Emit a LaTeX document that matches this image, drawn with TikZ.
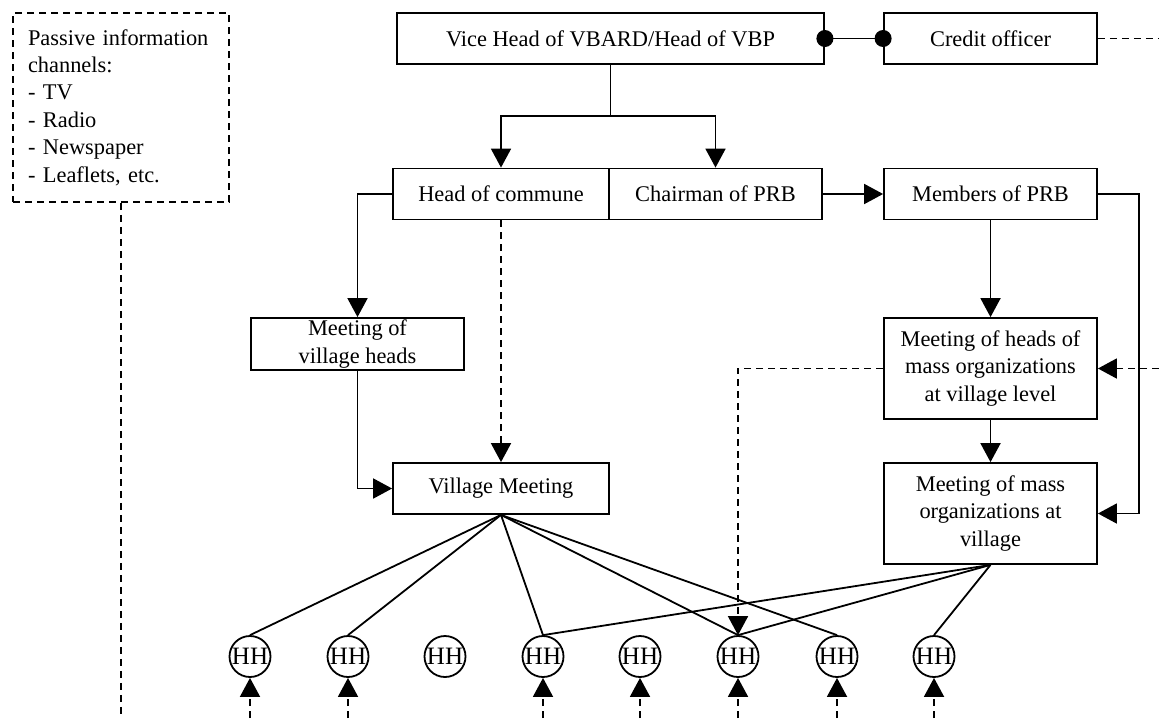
\documentclass[tikz,border=0pt]{standalone}
\usepackage{fontspec}
\setmainfont{Liberation Serif}
\usetikzlibrary{arrows.meta}

\begin{document}
\begin{tikzpicture}[x=0.5pt, y=-0.5pt, line width=0.9pt,
  font=\fontsize{11.2}{13.7}\selectfont,
  box/.style={draw, minimum width=106.5pt, minimum height=25.5pt, inner xsep=2pt, inner ysep=0.5pt, align=center},
  tallbox/.style={box, minimum height=50.5pt},
  hh/.style={draw, circle, minimum size=20.5pt, inner sep=0pt, font=\fontsize{12.5}{14}\selectfont},
  arr/.style={-{Triangle[length=9.5pt, width=10pt]}},
  dsh/.style={dash pattern=on 3.5pt off 2.5pt},
  dasharr/.style={arr, dsh},
  dotline/.style={{Circle[length=8.5pt]}-{Circle[length=8.5pt]}, shorten <=-4.25pt, shorten >=-4.25pt}]

\useasboundingbox (0,0) rectangle (1159,718);

% passive channels
\node[draw, dsh, minimum height=94.5pt, text width=93pt, inner xsep=7.5pt, align=left] (pic) at (121,107.5)
  {Passive information channels:\\- TV\\- Radio\\- Newspaper\\- Leaflets, etc.};

% boxes
\node[box, minimum width=213.5pt] (vh) at (610.5,38.5) {Vice Head of VBARD/Head of VBP};
\node[box] (co) at (990.5,38.5) {Credit officer};
\node[box, minimum width=108pt] (hc) at (501,194) {Head of commune};
\node[box] (ch) at (715.5,194) {Chairman of PRB};
\node[box] (mp) at (990.5,194) {Members of PRB};
\node[box, minimum height=26pt] (mvh) at (357.5,344) {Meeting of\\village heads};
\node[box, minimum width=108pt] (vm) at (501,488.5) {Village Meeting};
\node[tallbox] (mh) at (990.5,368.5) {Meeting of heads of\\mass organizations\\at village level};
\node[tallbox] (mo) at (990.5,513.5) {Meeting of mass\\organizations at\\village};

% households
\foreach \i/\x in {1/250,2/348,3/445,4/543,5/640,6/738,7/837,8/934}
  \node[hh] (hh\i) at (\x,656.5) {HH};

\coordinate (split) at (610.5,116);
\coordinate (cor) at (1159,38.5);
\coordinate (mhr) at (1159,368.5);
\coordinate (base) at (0,718);

% connectors
\draw[dotline] (vh) -- (co);
\draw[dsh] (co.east) -- (cor);
\draw (vh.south) -- (split);
\draw[arr] (split) -| (hc.north);
\draw[arr] (split) -| (ch.north);
\draw[arr] (ch) -- (mp);
\draw[arr] (hc.west) -| (mvh.north);
\draw[arr] (mvh.south) |- (vm.west);
\draw[dasharr] (hc.south) -- (vm.north);
\draw[arr] (mp) -- (mh);
\draw[arr] (mh) -- (mo);
\draw[arr] (mp.east) -- ++(41,0) |- (mo.east);
\draw[dasharr] (mhr) -- (mh.east);
\draw[dasharr] (mh.west) -| (hh6.north);
\draw[dsh] (pic.south) -- (pic.south |- base);

\foreach \i in {1,2,4,6,7}
  \draw (vm.south) -- (hh\i.north);
\foreach \i in {4,6,8}
  \draw (mo.south) -- (hh\i.north);
\foreach \i in {1,2,4,5,6,7,8}
  \draw[dasharr] (hh\i.south |- base) -- (hh\i.south);

\end{tikzpicture}
\end{document}
